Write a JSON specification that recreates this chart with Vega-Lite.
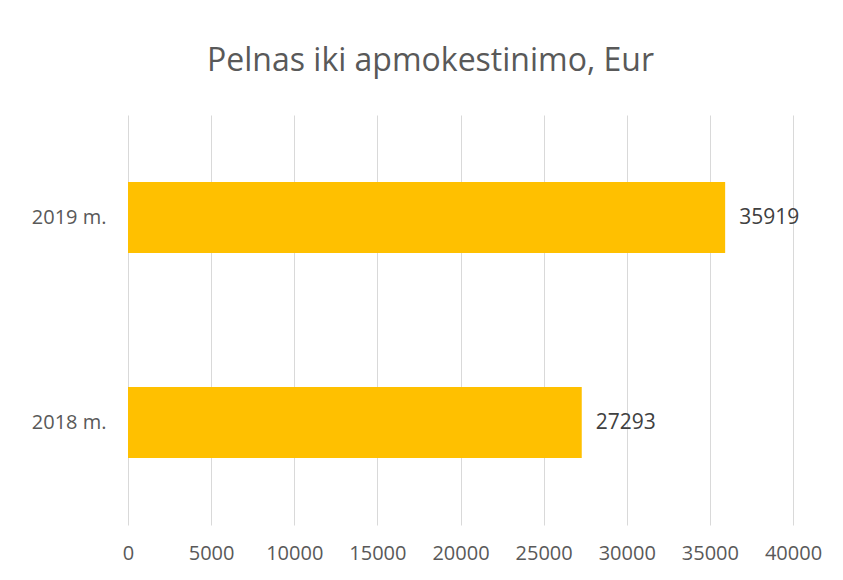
{
  "$schema": "https://vega.github.io/schema/vega-lite/v6.json",
  "autosize": {"type": "none"},
  "width": 665,
  "height": 410,
  "padding": {"left": 128, "top": 115, "right": 50, "bottom": 55},
  "background": "white",
  "title": {
    "text": "Pelnas iki apmokestinimo, Eur",
    "font": "Open Sans",
    "fontSize": 32,
    "fontWeight": "normal",
    "color": "#595959",
    "anchor": "middle",
    "offset": 37,
    "dx": -30
  },
  "data": {
    "values": [
      {"year": "2019 m.", "value": 35919},
      {"year": "2018 m.", "value": 27293}
    ]
  },
  "config": {
    "view": {"stroke": null},
    "axis": {"labelFont": "Open Sans", "labelColor": "#595959", "labelFontSize": 20}
  },
  "encoding": {
    "y": {
      "field": "year",
      "type": "nominal",
      "sort": ["2019 m.", "2018 m."],
      "scale": {"paddingInner": 0.654, "paddingOuter": 0.327},
      "axis": {"title": null, "ticks": false, "domain": false, "labelPadding": 22, "labelFontSize": 20}
    },
    "x": {
      "field": "value",
      "type": "quantitative",
      "scale": {"domain": [0, 40000], "nice": false},
      "axis": {
        "title": null,
        "values": [0, 5000, 10000, 15000, 20000, 25000, 30000, 35000, 40000],
        "format": "d",
        "ticks": false,
        "domain": false,
        "grid": true,
        "gridColor": "#d9d9d9",
        "labelFlush": false,
        "labelPadding": 18,
        "labelFontSize": 20
      }
    }
  },
  "layer": [
    {"mark": {"type": "bar", "color": "#FFC000"}},
    {
      "mark": {"type": "text", "align": "left", "dx": 14, "font": "Open Sans", "fontSize": 21, "color": "#404040"},
      "encoding": {"text": {"field": "value", "type": "quantitative", "format": "d"}}
    }
  ]
}
